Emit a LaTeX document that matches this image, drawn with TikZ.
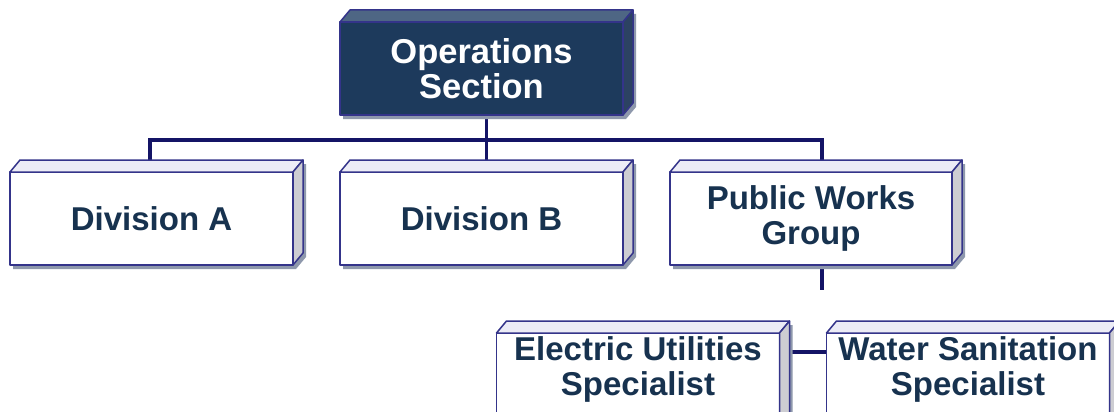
\documentclass[tikz,border=0pt]{standalone}
\usepackage{fontspec}
\setmainfont{Liberation Sans}
\usetikzlibrary{calc}
\pgfdeclarelayer{bg}
\pgfdeclarelayer{canvas}
\pgfsetlayers{canvas,bg,main}
\definecolor{opsfill}{HTML}{1D3A5C}
\definecolor{opstop}{HTML}{4E6684}
\definecolor{opsside}{HTML}{2C4262}
\definecolor{boxline}{HTML}{34348A}
\definecolor{connc}{HTML}{141466}
\definecolor{txtc}{HTML}{17324F}
\definecolor{lighttop}{HTML}{ECECF6}
\definecolor{lightside}{HTML}{CDCDD2}
\definecolor{shadowc}{HTML}{8E98AC}
\newcommand\boxfaces[3]{%
  \begin{pgfonlayer}{bg}
  \fill[shadowc] ($(#1.south west)+(3,4)$) -- ($(#1.south east)+(3,4)$) -- ($(#1.south east)+(13,-8)$)
     -- ($(#1.north east)+(13,-8)$) -- ($(#1.north west)+(13,-8)$) -- ($(#1.north west)+(3,4)$) -- cycle;
  \end{pgfonlayer}
  \filldraw[boxedge,fill=#2] (#1.north west) -- ($(#1.north west)+(10,-12)$) -- ($(#1.north east)+(10,-12)$) -- (#1.north east) -- cycle;
  \filldraw[boxedge,fill=#3] (#1.north east) -- ($(#1.north east)+(10,-12)$) -- ($(#1.south east)+(10,-12)$) -- (#1.south east) -- cycle;
}
\tikzset{
  boxedge/.style={draw=boxline, line width=1.5pt, line join=round},
  orgbox/.style={boxedge, fill=white, minimum width=283pt, minimum height=93pt, inner sep=0pt, outer sep=0pt,
     align=center, text=txtc, font=\fontsize{33}{35}\selectfont\bfseries},
  headbox/.style={orgbox, fill=opsfill, text=white, font=\fontsize{34.5}{35}\selectfont\bfseries},
  boxtext/.style={align=center, text=txtc, inner sep=0pt, font=\fontsize{33}{35}\selectfont\bfseries},
  conn/.style={draw=connc, line width=3.2pt}
}
\begin{document}
\begin{tikzpicture}[x=1pt,y=-1pt]
\begin{pgfonlayer}{canvas}
\fill[white] (0,0) rectangle (1114,412);
\end{pgfonlayer}
\useasboundingbox (0,0) rectangle (1114,412);
\node[headbox] (ops) at (481.5,68.5) {Operations\\Section};
\node[orgbox] (divA) at (151.5,218.5) {Division A};
\node[orgbox] (divB) at (481.5,218.5) {Division B};
\node[orgbox, minimum width=282pt] (pw) at (811,218.5) {Public Works\\Group};
\node[orgbox, minimum height=110pt] (elec) at (638,388) {};
\node[orgbox, minimum height=110pt] (water) at (968,388) {};
\node[boxtext] (elecT) at (638,369) {Electric Utilities\\Specialist};
\node[boxtext] (waterT) at (968,369) {Water Sanitation\\Specialist};
\coordinate (busy) at (0,140);
\coordinate (pwstub) at (822,290);
\begin{pgfonlayer}{bg}
\draw[conn] ([xshift=5pt]ops.south) -- ([xshift=5pt]ops.south |- busy);
\draw[conn] ([xshift=-1.5pt,yshift=-14pt]divA.north) |- (busy -| pwstub) -- ([yshift=-14pt]pwstub |- pw.north);
\draw[conn] ([xshift=5pt,yshift=-14pt]divB.north) -- ([xshift=5pt]divB.north |- busy);
\draw[conn] (pwstub |- pw.south) -- (pwstub);
\draw[conn] ($(elec.north east)+(0,19)$) -- ($(water.north west)+(0,19)$);
\end{pgfonlayer}
\boxfaces{ops}{opstop}{opsside}
\boxfaces{divA}{lighttop}{lightside}
\boxfaces{divB}{lighttop}{lightside}
\boxfaces{pw}{lighttop}{lightside}
\boxfaces{elec}{lighttop}{lightside}
\boxfaces{water}{lighttop}{lightside}
\end{tikzpicture}
\end{document}
